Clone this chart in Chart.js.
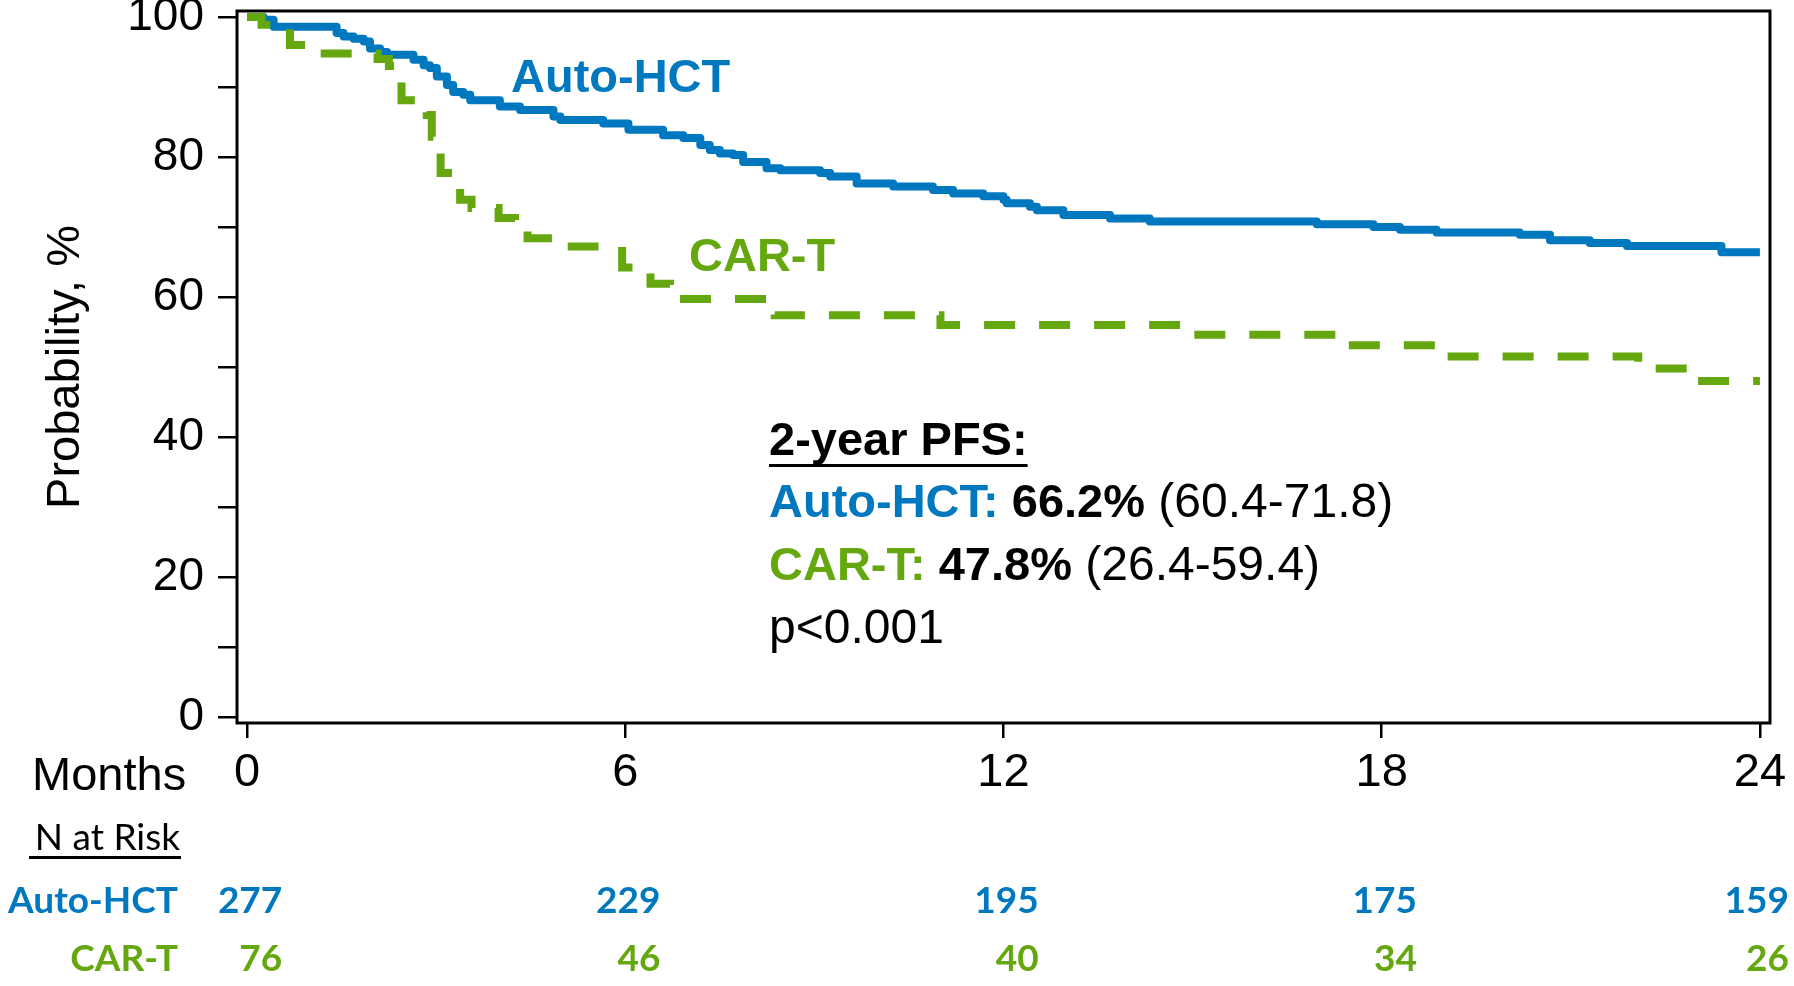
<!DOCTYPE html>
<html>
<head>
<meta charset="utf-8">
<script src="https://cdn.jsdelivr.net/npm/chart.js@4.4.1/dist/chart.umd.min.js"></script>
<style>
html,body{margin:0;padding:0;background:#fff;}
#wrap{width:1794px;height:986px;position:relative;}
</style>
</head>
<body>
<div id="wrap"><canvas id="c"></canvas></div>
<script>
// ---------- data ----------
const seriesNames = ['Auto-HCT', 'CAR-T'];
const autoMonths = [0, 0.26, 0.42, 1.42, 1.53, 1.69, 1.85, 1.95, 2.11, 2.22, 2.64, 2.80, 2.90, 3.01, 3.17, 3.27, 3.43, 3.54, 4.01, 4.33, 4.86, 4.97, 5.65, 6.05, 6.60, 6.92, 7.19, 7.34, 7.50, 7.71, 7.87, 8.24, 8.46, 9.09, 9.25, 9.67, 10.25, 10.88, 11.20, 11.68, 12.00, 12.05, 12.42, 12.53, 12.95, 13.69, 14.32, 16.97, 17.87, 18.29, 18.87, 20.19, 20.67, 21.30, 21.89, 23.39, 24.00];
const autoValues = [100, 99.6, 98.6, 97.7, 97.2, 96.9, 96.5, 95.5, 95.0, 94.6, 93.9, 93.1, 92.7, 91.5, 90.3, 89.3, 88.9, 88.1, 87.2, 86.7, 85.8, 85.3, 84.8, 83.9, 83.1, 82.7, 81.7, 81.0, 80.5, 80.3, 79.3, 78.4, 78.1, 77.7, 77.2, 76.2, 75.8, 75.3, 74.8, 74.4, 73.9, 73.4, 72.9, 72.4, 71.7, 71.2, 70.8, 70.4, 70.0, 69.6, 69.2, 68.9, 68.1, 67.7, 67.3, 66.4, 66.4];
const carMonths = [0, 0.23, 0.68, 1.00, 2.07, 2.25, 2.45, 2.85, 2.93, 3.07, 3.38, 3.56, 3.99, 4.25, 4.45, 5.15, 5.95, 6.40, 6.71, 8.37, 11.00, 14.88, 17.44, 19.02, 22.07, 22.84, 24.00];
const carValues = [100, 98.9, 96.0, 94.8, 94.0, 93.0, 88.1, 86.0, 82.9, 77.7, 73.9, 72.7, 71.3, 69.8, 68.4, 67.2, 64.2, 61.9, 59.7, 57.4, 56.0, 54.6, 53.1, 51.5, 49.8, 48.0, 48.0];

const xTicks = [0, 6, 12, 18, 24];
const xTickLabels = ['0', '6', '12', '18', '24'];
const yTicks = [0, 10, 20, 30, 40, 50, 60, 70, 80, 90, 100];
const yTickLabels = ['0', '', '20', '', '40', '', '60', '', '80', '', '100'];

const riskMonths = [0, 6, 12, 18, 24];
const riskAuto = [277, 229, 195, 175, 159];
const riskCar = [76, 46, 40, 34, 26];

const pfsTitle = '2-year PFS:';
const pfsEstimates = ['66.2%', '47.8%'];
const pfsCI = ['(60.4-71.8)', '(26.4-59.4)'];
const pValueText = 'p<0.001';

// ---------- styling ----------
const FONT = '"Liberation Sans", Arial, Helvetica, sans-serif';
const TFONT = 'Lato, "Liberation Sans", Arial, sans-serif';
const BLUE = '#0078C0';
const GREEN = '#64A70F';

const toXY = (xs, ys) => xs.map((m, i) => ({x: m, y: ys[i]}));

function seq(ctx, x, y, parts) {
  for (const [t, font, color] of parts) {
    ctx.font = font; ctx.fillStyle = color;
    ctx.fillText(t, x, y);
    x += ctx.measureText(t).width;
  }
  return x;
}

const overlay = {
  id: 'overlay',
  afterDraw(chart) {
    const {ctx, chartArea: a} = chart;
    const xs = chart.scales.x;
    ctx.save();
    // frame
    ctx.strokeStyle = '#000';
    ctx.lineWidth = 3;
    ctx.strokeRect(a.left, a.top, a.right - a.left, a.bottom - a.top);

    ctx.textBaseline = 'alphabetic';
    const B47 = 'bold 47px ' + FONT, R48 = '48px ' + FONT;
    // curve labels
    ctx.textAlign = 'left';
    ctx.font = B47; ctx.fillStyle = BLUE; ctx.fillText(seriesNames[0], 511, 92);
    ctx.fillStyle = GREEN; ctx.fillText(seriesNames[1], 689, 271);

    // PFS block
    const bx = 769;
    ctx.font = B47; ctx.fillStyle = '#000';
    ctx.fillText(pfsTitle, bx, 455);
    const tw = ctx.measureText(pfsTitle).width;
    ctx.fillRect(bx, 464, tw, 3);
    seq(ctx, bx, 517, [[seriesNames[0] + ': ', B47, BLUE], [pfsEstimates[0], B47, '#000'], [' ' + pfsCI[0], R48, '#000']]);
    seq(ctx, bx, 580, [[seriesNames[1] + ': ', B47, GREEN], [pfsEstimates[1], B47, '#000'], [' ' + pfsCI[1], R48, '#000']]);
    ctx.font = R48; ctx.fillStyle = '#000';
    ctx.fillText(pValueText, bx, 643);

    // Months label
    ctx.font = '47px ' + FONT; ctx.fillStyle = '#000';
    ctx.fillText('Months', 32, 790);

    // risk table
    ctx.textAlign = 'right';
    ctx.font = '37px ' + TFONT; ctx.fillStyle = '#000';
    ctx.fillText('N at Risk', 180, 850);
    ctx.fillRect(29, 856, 152, 3);
    const B37 = 'bold 37px ' + TFONT;
    ctx.font = B37;
    ctx.fillStyle = BLUE; ctx.fillText(seriesNames[0], 178, 913);
    ctx.fillStyle = GREEN; ctx.fillText(seriesNames[1], 178, 971);
    riskMonths.forEach((m, i) => {
      const px = xs.getPixelForValue(m);
      ctx.font = B37;
      const w = ctx.measureText(String(riskAuto[i])).width;
      let right = px + 3 + w / 2;
      if (right > 1789) right = 1789;
      ctx.fillStyle = BLUE; ctx.fillText(String(riskAuto[i]), right, 913);
      ctx.fillStyle = GREEN; ctx.fillText(String(riskCar[i]), right, 971);
    });
    ctx.restore();
  }
};

Chart.defaults.font.family = FONT;
Chart.defaults.color = '#000';

new Chart(document.getElementById('c'), {
  type: 'line',
  data: {
    datasets: [
      {
        label: seriesNames[0],
        data: toXY(autoMonths, autoValues),
        borderColor: BLUE,
        borderWidth: 8,
        stepped: 'before',
        pointRadius: 0,
        fill: false,
        borderJoinStyle: 'round',
        borderCapStyle: 'butt',
        order: 1
      },
      {
        label: seriesNames[1],
        data: toXY(carMonths, carValues),
        borderColor: GREEN,
        borderWidth: 8,
        stepped: 'before',
        pointRadius: 0,
        fill: false,
        borderDash: [31, 24],
        borderJoinStyle: 'miter',
        borderCapStyle: 'butt',
        order: 0
      }
    ]
  },
  options: {
    responsive: true,
    maintainAspectRatio: false,
    animation: false,
    devicePixelRatio: 1,
    layout: {padding: {left: 0, top: 11, right: 24, bottom: 0}},
    plugins: {legend: {display: false}, tooltip: {enabled: false}},
    scales: {
      x: {
        type: 'linear',
        min: -0.16,
        max: 24.16,
        afterBuildTicks: s => { s.ticks = xTicks.map(v => ({value: v})); },
        afterFit: s => { s.height = 263; s.paddingLeft = 0; s.paddingRight = 0; },
        ticks: {
          autoSkip: false, maxRotation: 0, padding: 7,
          font: {size: 47, family: FONT}, color: '#000',
          callback: (v, i) => xTickLabels[i]
        },
        grid: {display: true, drawOnChartArea: false, drawTicks: true, tickLength: 15, color: '#000', lineWidth: 2.5},
        border: {display: false}
      },
      y: {
        min: -0.86,
        max: 100.86,
        afterBuildTicks: s => { s.ticks = yTicks.map(v => ({value: v})); },
        afterFit: s => { s.width = 237; s.paddingTop = 0; s.paddingBottom = 0; },
        ticks: {
          autoSkip: false, padding: 14,
          font: {size: 46, family: FONT}, color: '#000',
          callback: (v, i) => yTickLabels[i]
        },
        grid: {display: true, drawOnChartArea: false, drawTicks: true, tickLength: 19, color: '#000', lineWidth: 2.5},
        border: {display: false},
        title: {display: true, text: 'Probability, %', font: {size: 47, family: FONT}, color: '#000', padding: {top: 38, bottom: 0}}
      }
    }
  },
  plugins: [overlay]
});
</script>
</body>
</html>
